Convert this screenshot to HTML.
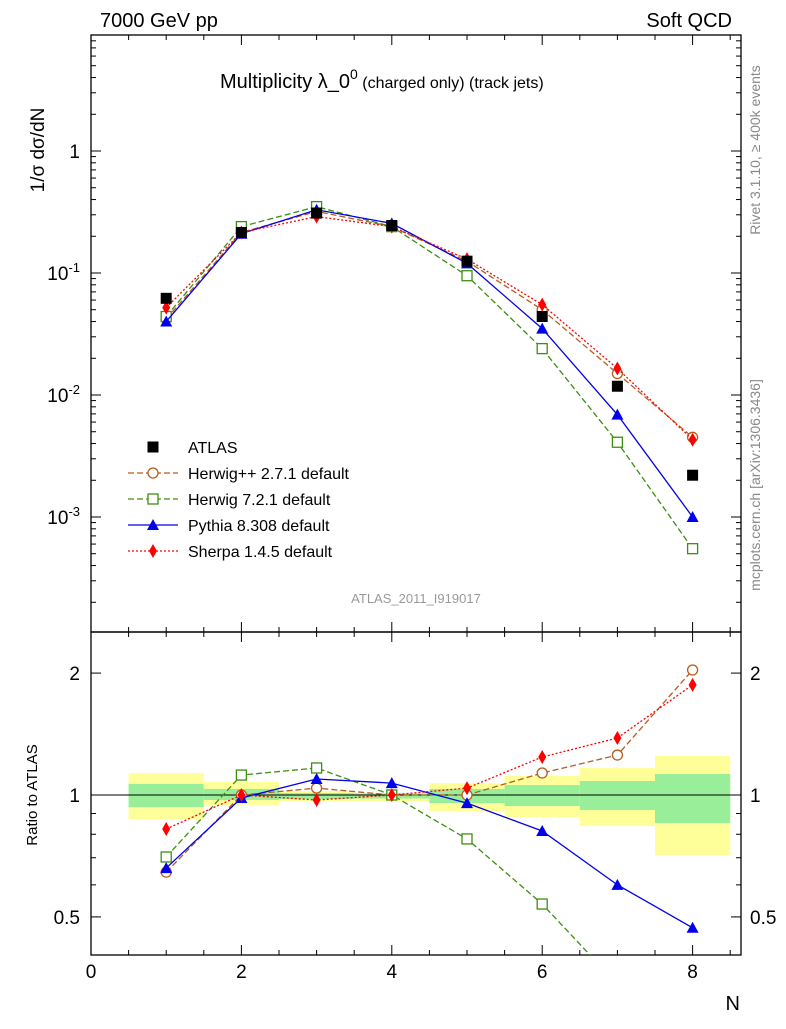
<!DOCTYPE html>
<html><head><meta charset="utf-8"><style>
body{margin:0;background:#fff;font-family:"Liberation Sans",sans-serif}
svg text{font-family:"Liberation Sans","DejaVu Sans",sans-serif}
</style></head><body>
<svg id="c" width="786" height="1024" xmlns="http://www.w3.org/2000/svg">
<text x="100" y="27" font-size="20">7000 GeV pp</text>
<text x="732" y="27" font-size="20" text-anchor="end">Soft QCD</text>
<text x="220" y="88" font-size="20">Multiplicity λ_0<tspan font-size="14" dy="-9">0</tspan><tspan font-size="16" dy="9"> (charged only) (track jets)</tspan></text>
<text transform="translate(44,150) rotate(-90)" font-size="19" text-anchor="middle">1/σ dσ/dN</text>
<text transform="translate(760,150) rotate(-90)" font-size="14" fill="#888" text-anchor="middle">Rivet 3.1.10, ≥ 400k events</text>
<text transform="translate(760,485) rotate(-90)" font-size="14" fill="#888" text-anchor="middle">mcplots.cern.ch [arXiv:1306.3436]</text>
<text x="416" y="603" font-size="13" fill="#999" text-anchor="middle">ATLAS_2011_I919017</text>
<text transform="translate(37,795) rotate(-90)" font-size="15" text-anchor="middle">Ratio to ATLAS</text>
<text x="740" y="1010" font-size="20" text-anchor="end">N</text>
<g id="bands"></g><g id="axes"></g><g id="marks"></g><g id="legend"></g>
</svg>
<script>
const xVals=[1,2,3,4,5,6,7,8];
const atlas=[0.062,0.215,0.31,0.245,0.125,0.044,0.0118,0.0022];
const herwigpp=[0.042,0.215,0.32,0.24,0.125,0.05,0.015,0.0045];
const herwig7=[0.044,0.24,0.35,0.24,0.095,0.024,0.0041,0.00055];
const pythia=[0.040,0.21,0.33,0.255,0.12,0.035,0.0069,0.001];
const sherpa=[0.052,0.215,0.29,0.24,0.13,0.055,0.0165,0.0043];
const rHerwigpp=[0.645,1.0,1.04,1.0,1.0,1.133,1.255,2.035];
const rHerwig7=[0.703,1.12,1.166,1.0,0.779,0.538,0.341,0.25];
const rPythia=[0.66,0.983,1.095,1.07,0.955,0.815,0.60,0.47];
const rSherpa=[0.824,1.0,0.972,1.0,1.04,1.241,1.383,1.87];
const yellowLo=[0.872,0.945,0.966,0.966,0.913,0.882,0.838,0.711];
const yellowHi=[1.133,1.077,1.023,1.011,1.070,1.114,1.166,1.248];
const greenLo=[0.934,0.972,0.977,0.98,0.955,0.939,0.918,0.853];
const greenHi=[1.065,1.035,1.011,1.008,1.035,1.058,1.083,1.127];
const yMainTicks=[1,0.1,0.01,0.001];
const yMainLabels=["1","10^-1","10^-2","10^-3"];
const rTicks=[0.5,1,2];
const xTicks=[0,2,4,6,8];
const NS="http://www.w3.org/2000/svg";
const L=91,R=741,T=35,MB=632,RB=955;
const X=v=>91+v*75.2;
const Y=v=>151-Math.log10(v)*122;
const RY=v=>795-Math.log10(v)*405;
function mk(p,t,a){const e=document.createElementNS(NS,t);for(const k in a)e.setAttribute(k,a[k]);p.appendChild(e);return e;}
const bands=document.getElementById('bands'),axes=document.getElementById('axes'),marks=document.getElementById('marks'),leg=document.getElementById('legend');
xVals.forEach((x,i)=>{
 let r=mk(bands,'rect',{x:X(x-0.5),y:RY(yellowHi[i]),width:75.2,height:RY(yellowLo[i])-RY(yellowHi[i]),fill:'#ffff99'});
 
 let g=mk(bands,'rect',{x:X(x-0.5),y:RY(greenHi[i]),width:75.2,height:RY(greenLo[i])-RY(greenHi[i]),fill:'#99ee99'});
 
});
let ln=mk(axes,'line',{x1:L,x2:R,y1:RY(1),y2:RY(1),stroke:'#000','stroke-width':1});

let f1=mk(axes,'rect',{x:L,y:T,width:R-L,height:MB-T,fill:'none',stroke:'#000','stroke-width':1.3});

let f2=mk(axes,'rect',{x:L,y:MB,width:R-L,height:RB-MB,fill:'none',stroke:'#000','stroke-width':1.3});

for(let d=-4;d<=1;d++)for(let m=1;m<10;m++){const v=m*Math.pow(10,d);const y=Y(v);if(y<T||y>MB)continue;const len=m==1?10:5;
 mk(axes,'line',{x1:L,x2:L+len,y1:y,y2:y,stroke:'#000'});mk(axes,'line',{x1:R-len,x2:R,y1:y,y2:y,stroke:'#000'});}
yMainTicks.forEach((v,i)=>{const s=yMainLabels[i];let t=mk(axes,'text',{x:80,y:Y(v)+7,'font-size':19,'text-anchor':'end'});
 if(s.includes('^')){const p=s.split('^');t.textContent=p[0];const ts=mk(t,'tspan',{dy:-8,'font-size':13});ts.textContent=p[1];}else t.textContent=s;
 });
[0.5,0.6,0.7,0.8,0.9,1,2].forEach(v=>{const y=RY(v);const len=rTicks.includes(v)?10:5;
 mk(axes,'line',{x1:L,x2:L+len,y1:y,y2:y,stroke:'#000'});mk(axes,'line',{x1:R-len,x2:R,y1:y,y2:y,stroke:'#000'});});
rTicks.forEach(v=>{let t=mk(axes,'text',{x:80,y:RY(v)+7,'font-size':19,'text-anchor':'end'});t.textContent=String(v);
 
 let t2=mk(axes,'text',{x:750,y:RY(v)+7,'font-size':19});t2.textContent=String(v);
 });
for(let v=0;v<=8.6;v+=0.5){const x=X(v);const len=(v%2==0)?10:5;
 [[T,T+len],[MB-len,MB],[MB,MB+len],[RB-len,RB]].forEach(a=>mk(axes,'line',{x1:x,x2:x,y1:a[0],y2:a[1],stroke:'#000'}));}
xTicks.forEach(v=>{let t=mk(axes,'text',{x:X(v),y:978,'font-size':19,'text-anchor':'middle'});t.textContent=String(v);
 });
function marker(g,type,x,y,c){
 if(type=='sq')return mk(g,'rect',{x:x-5.5,y:y-5.5,width:11,height:11,fill:'#000'});
 if(type=='circ')return mk(g,'circle',{cx:x,cy:y,r:5,fill:'#fff',stroke:c,'stroke-width':1.3});
 if(type=='osq')return mk(g,'rect',{x:x-5,y:y-5,width:10,height:10,fill:'#fff',stroke:c,'stroke-width':1.3});
 if(type=='tri')return mk(g,'polygon',{points:`${x},${y-6} ${x-6},${y+5} ${x+6},${y+5}`,fill:c});
 if(type=='dia')return mk(g,'polygon',{points:`${x},${y-7} ${x-4},${y} ${x},${y+7} ${x+4},${y}`,fill:c});
}
const series=[
 {n:'herwigpp',d:herwigpp,r:rHerwigpp,c:'#b85c1e',m:'circ',dash:'6,3',lab:'Herwig++ 2.7.1 default'},
 {n:'herwig7',d:herwig7,r:rHerwig7,c:'#3d8f10',m:'osq',dash:'6,3',lab:'Herwig 7.2.1 default'},
 {n:'pythia',d:pythia,r:rPythia,c:'#0000ee',m:'tri',dash:'',lab:'Pythia 8.308 default'},
 {n:'sherpa',d:sherpa,r:rSherpa,c:'#ff0000',m:'dia',dash:'2,2',lab:'Sherpa 1.4.5 default'}];
const clip=mk(document.getElementById('c'),'clipPath',{id:'rc'});mk(clip,'rect',{x:L,y:MB,width:R-L,height:RB-MB});
series.forEach(s=>{
 const g=mk(marks,'g',{});
 let p=mk(g,'polyline',{points:xVals.map((x,i)=>X(x)+','+Y(s.d[i])).join(' '),fill:'none',stroke:s.c,'stroke-width':1.3,'stroke-dasharray':s.dash});
 
 xVals.forEach((x,i)=>{let m=marker(g,s.m,X(x),Y(s.d[i]),s.c);});
 const gr=mk(marks,'g',{'clip-path':'url(#rc)'});
 let pr=mk(gr,'polyline',{points:xVals.map((x,i)=>X(x)+','+RY(s.r[i])).join(' '),fill:'none',stroke:s.c,'stroke-width':1.3,'stroke-dasharray':s.dash});
 
 xVals.forEach((x,i)=>{let m=marker(gr,s.m,X(x),RY(s.r[i]),s.c);});
});
const ga=mk(marks,'g',{});
xVals.forEach((x,i)=>{let m=marker(ga,'sq',X(x),Y(atlas[i]));});
const ly0=447;
let e=mk(leg,'g',{});
marker(e,'sq',153,ly0);let t=mk(e,'text',{x:188,y:ly0+6,'font-size':16});t.textContent='ATLAS';
series.forEach((s,i)=>{const y=ly0+26*(i+1);const g=mk(leg,'g',{});
 
 mk(g,'line',{x1:128,x2:178,y1:y,y2:y,stroke:s.c,'stroke-width':1.3,'stroke-dasharray':s.dash});
 marker(g,s.m,153,y,s.c);const tx=mk(g,'text',{x:188,y:y+6,'font-size':16});tx.textContent=s.lab;});
</script>
</body></html>
